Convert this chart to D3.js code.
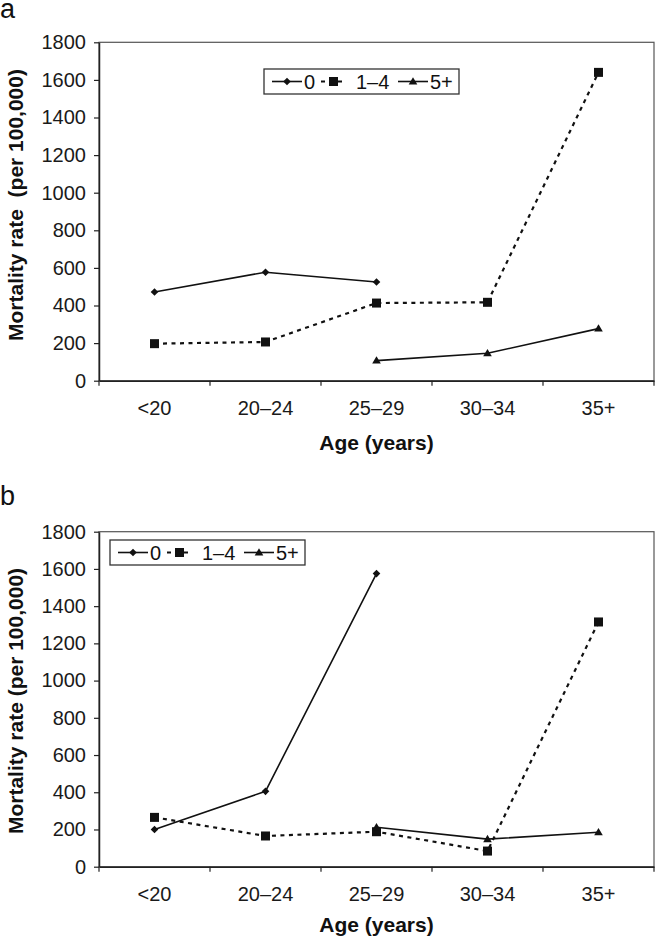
<!DOCTYPE html>
<html>
<head>
<meta charset="utf-8">
<script src="https://cdn.jsdelivr.net/npm/d3@7"></script>
<style>
  html, body { margin: 0; padding: 0; background: #fff; }
  svg { display: block; font-family: "Liberation Sans", Arial, sans-serif; }
</style>
</head>
<body>
<svg id="chart" width="655" height="937"></svg>
<script>
// ---- data ----
const categories = ["<20", "20\u201324", "25\u201329", "30\u201334", "35+"];
const seriesNames = ["0", "1\u20134", "5+"];
const yTicks = [0, 200, 400, 600, 800, 1000, 1200, 1400, 1600, 1800];

const panelA_0   = [472, 577, 525, null, null];
const panelA_1_4 = [197, 206, 413, 417, 1640];
const panelA_5   = [null, null, 107, 146, 277];

const panelB_0   = [200, 405, 1575, null, null];
const panelB_1_4 = [265, 165, 188, 84, 1315];
const panelB_5   = [null, null, 212, 148, 185];

const svg = d3.select("#chart");

const markers = {
  diamond: g => g.append("path").attr("d", "M0,-3.8L3.8,0L0,3.8L-3.8,0Z"),
  square: g => g.append("rect").attr("x", -4.5).attr("y", -4.5).attr("width", 9).attr("height", 9),
  triangle: g => g.append("path").attr("d", "M0,-4.3L4.3,3L-4.3,3Z")
};

function drawPanel(cfg) {
  const x = d3.scaleBand().domain(categories).range([cfg.left, cfg.right]);
  const y = d3.scaleLinear().domain([0, 1800]).range([cfg.bottom, cfg.top]);
  const g = svg.append("g");

  // panel label
  g.append("text").attr("x", 0).attr("y", cfg.labelY)
    .attr("font-size", 27).attr("fill", "#111").text(cfg.label);

  // frame
  g.append("rect").attr("x", cfg.left).attr("y", cfg.top)
    .attr("width", cfg.right - cfg.left).attr("height", cfg.bottom - cfg.top)
    .attr("fill", "none").attr("stroke", "#555").attr("stroke-width", 1.2);

  // y axis
  const yAxis = d3.axisLeft(y).tickValues(yTicks).tickFormat(d3.format("d"))
    .tickSize(5).tickSizeOuter(0).tickPadding(8);
  const ya = g.append("g").attr("transform", `translate(${cfg.left},0)`).call(yAxis);
  ya.select(".domain").attr("stroke", "#222").attr("stroke-width", 1.5);
  ya.selectAll(".tick line").attr("stroke", "#222").attr("stroke-width", 1.2);
  ya.selectAll("text").attr("font-size", 20).attr("fill", "#1a1a1a")
    .attr("font-family", "Liberation Sans, Arial, sans-serif");

  // x axis
  const xAxis = d3.axisBottom(x).tickSize(0).tickSizeOuter(0).tickPadding(20);
  const xa = g.append("g").attr("transform", `translate(0,${cfg.bottom})`).call(xAxis);
  xa.select(".domain").attr("stroke", "#222").attr("stroke-width", 1.5);
  xa.selectAll("text").attr("font-size", 20).attr("fill", "#1a1a1a")
    .attr("font-family", "Liberation Sans, Arial, sans-serif");
  const bounds = d3.range(categories.length + 1).map(i => x.range()[0] + i * x.step());
  xa.selectAll(".btick").data(bounds).join("line").attr("class", "btick")
    .attr("x1", d => d).attr("x2", d => d).attr("y1", 0).attr("y2", 5)
    .attr("stroke", "#222").attr("stroke-width", 1.2);

  // axis titles
  g.append("text").attr("x", (cfg.left + cfg.right) / 2).attr("y", cfg.xTitleY)
    .attr("text-anchor", "middle").attr("dominant-baseline", "central")
    .attr("font-size", 21).attr("font-weight", "bold").attr("fill", "#111").text("Age (years)");
  g.append("text")
    .attr("transform", `translate(15,${cfg.yTitleCenter}) rotate(-90)`)
    .attr("text-anchor", "middle").attr("dominant-baseline", "central")
    .attr("font-size", 21).attr("font-weight", "bold").attr("fill", "#111")
    .style("white-space", "pre").text(cfg.yTitle);

  // series
  const series = [
    { name: seriesNames[0], values: cfg.s0, marker: "diamond", dash: null, width: 1.6 },
    { name: seriesNames[1], values: cfg.s1, marker: "square", dash: "4,4.5", width: 2.2 },
    { name: seriesNames[2], values: cfg.s2, marker: "triangle", dash: null, width: 1.6 }
  ];
  const cx = c => x(c) + x.bandwidth() / 2;
  const line = d3.line()
    .defined(d => d.v != null)
    .x(d => cx(d.c)).y(d => y(d.v));

  series.forEach(s => {
    const pts = categories.map((c, i) => ({ c, v: s.values[i] }));
    g.append("path").datum(pts).attr("d", line)
      .attr("fill", "none").attr("stroke", "#111").attr("stroke-width", s.width)
      .attr("stroke-dasharray", s.dash);
    pts.filter(d => d.v != null).forEach(d => {
      const mg = g.append("g").attr("transform", `translate(${cx(d.c)},${y(d.v)})`)
        .attr("fill", "#111");
      markers[s.marker](mg);
    });
  });

  // legend
  const lg = g.append("g").attr("transform", `translate(${cfg.legendX},${cfg.legendY})`);
  lg.append("rect").attr("x", 0).attr("y", 0).attr("width", 195).attr("height", 25)
    .attr("fill", "#fff").attr("stroke", "#333").attr("stroke-width", 1.3);
  const items = [
    { lx: 8, len: 30, tx: 40, s: series[0] },
    { lx: 57, len: 25, tx: 92, s: series[1] },
    { lx: 134, len: 30, tx: 166, s: series[2] }
  ];
  items.forEach(it => {
    lg.append("line").attr("x1", it.lx).attr("x2", it.lx + it.len).attr("y1", 12.5).attr("y2", 12.5)
      .attr("stroke", "#111").attr("stroke-width", it.s.width)
      .attr("stroke-dasharray", it.s.dash);
    const mg = lg.append("g").attr("transform", `translate(${it.lx + it.len / 2},12.5)`).attr("fill", "#111");
    markers[it.s.marker](mg);
    lg.append("text").attr("x", it.tx).attr("y", 13).attr("dominant-baseline", "central")
      .attr("font-size", 20).attr("fill", "#111").text(it.s.name);
  });
}

drawPanel({
  label: "a", labelY: 18,
  left: 99, right: 654, top: 42.3, bottom: 380.7, xTitleY: 442,
  yTitle: "Mortality rate  (per 100,000)", yTitleCenter: 205,
  s0: panelA_0, s1: panelA_1_4, s2: panelA_5,
  legendX: 264, legendY: 69
});

drawPanel({
  label: "b", labelY: 505,
  left: 99, right: 654, top: 531.7, bottom: 866.7, xTitleY: 924,
  yTitle: "Mortality rate (per 100,000)", yTitleCenter: 701,
  s0: panelB_0, s1: panelB_1_4, s2: panelB_5,
  legendX: 110, legendY: 540
});
</script>
</body>
</html>
